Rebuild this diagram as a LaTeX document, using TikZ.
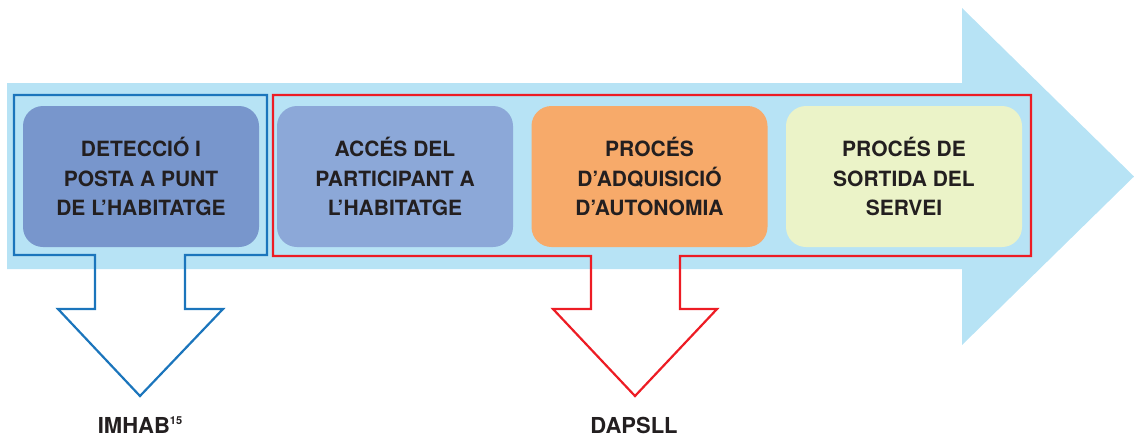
\documentclass[tikz,border=0pt]{standalone}
\usepackage{fontspec}
\setmainfont{TeX Gyre Heros}
\definecolor{band}{HTML}{B7E3F5}
\definecolor{stageA}{HTML}{7896CC}
\definecolor{stageB}{HTML}{8CA8D8}
\definecolor{stageC}{HTML}{F7AA6A}
\definecolor{stageD}{HTML}{EBF3C8}
\definecolor{blueline}{HTML}{1B75BC}
\definecolor{redline}{HTML}{ED1C24}
\definecolor{ink}{HTML}{231F20}
\begin{document}
\begin{tikzpicture}[x=1pt,y=-1pt,
  stage/.style={rounded corners=20pt, minimum width=236pt, minimum height=141pt,
    align=center, inner sep=0pt, text=ink,
    font=\bfseries\fontsize{21}{29.5}\selectfont},
  frame/.style={line width=2.2pt, line join=miter},
  lbl/.style={anchor=base, inner sep=0pt, text=ink,
    font=\bfseries\fontsize{22}{26}\selectfont}]
\useasboundingbox (0,0) rectangle (1134,437);

% process arrow in the background
\fill[band] (7,83) -- (962,83) -- (962,8) -- (1134,176.5) -- (962,345)
  -- (962,269) -- (7,269) -- cycle;

% stages
\node[stage, fill=stageA] (detect) at (141,176.5) {DETECCIÓ I\\POSTA A PUNT\\DE L’HABITATGE};
\node[stage, fill=stageB] (access) at (395,176.5) {ACCÉS DEL\\PARTICIPANT A\\L’HABITATGE};
\node[stage, fill=stageC] (auton) at (649.5,176.5) {PROCÉS\\D’ADQUISICIÓ\\D’AUTONOMIA};
\node[stage, fill=stageD] (exit) at (904,176.5) {PROCÉS DE\\SORTIDA DEL\\SERVEI};

% responsible bodies
\node[lbl] (imhab) at (140,433) {IMHAB\raisebox{9pt}{\fontsize{11}{11}\selectfont 15}};
\node[lbl] (dapsll) at (634,433) {DAPSLL};

% frame of the first stage with its arrow down
\draw[frame, blueline] (95,255) -- (14,255) -- (14,95) -- (267,95) -- (267,255)
  -- (185,255) -- (185,309) -- (223,309) -- (140,396) -- (58,309) -- (95,309) -- cycle;

% frame of the remaining stages with its arrow down
\draw[frame, redline] (591,256) -- (273,256) -- (273,95) -- (1031,95) -- (1031,256)
  -- (680,256) -- (680,309) -- (717,309) -- (635,396) -- (553,309) -- (591,309) -- cycle;
\end{tikzpicture}
\end{document}
